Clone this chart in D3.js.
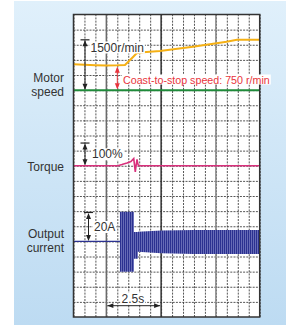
<!DOCTYPE html>
<html>
<head>
<meta charset="utf-8">
<script src="https://cdn.jsdelivr.net/npm/d3@7"></script>
<style>
html,body{margin:0;padding:0;background:#fff;}
svg{display:block;font-family:"Liberation Sans",Arial,sans-serif;}
</style>
</head>
<body>
<svg id="chart" width="286" height="326"></svg>
<script>
var speedT = [-1.5,-1,-0.5,0,0.5,0.85,1.08,1.23,1.38,1.68,2.45,3.95,5.49,5.96,7];
var speedV = [762,747,735,729,732,741,889,986,1087,1116,1155,1282,1429,1485,1490];
var syncV = 0; //ligne verte

var torqueT = [-1.5,0.53,0.71,0.94,1.12,1.25,1.29,1.32,1.36,1.40,1.44,1.47,7];
var torqueV = [0,0,5,12,18,31,-1,-27,3,27,7,0,0];

var curBaseT = [-1.5,0.62];
var curT = [0.62,1.26,1.26,1.44,1.44,2.5,4,7];
var curMax = [20.2,20.2,6.4,6.4,6.6,7.4,7.8,7.8];
var curMin = [-20.6,-20.6,-11.8,-11.8,-7.0,-8.0,-8.6,-8.6];

var gridT = d3.range(-1.5,7.01,0.5);
var majorT = [0,2.5,5];
var majorCol = ["#6a6a6a","#333333","#8a8a8a"];
var nbRows = 20;
var chLabels = [["Motor","speed"],["Torque"],["Output","current"]];

var svg = d3.select("#chart");
var x0 = 73.5, x1 = 259.7, y0 = 14.5, y1 = 317;

var x = d3.scaleLinear().domain([-1.5,7]).range([x0,x1]);
var row = d3.scaleLinear().domain([0,nbRows]).range([y0,y1]);
var ySpeed = d3.scaleLinear().domain([0,1500]).range([row(5),row(5)-50.8]);
var yTorque = d3.scaleLinear().domain([0,100]).range([row(10),row(10)-23.2]);
var yCur = d3.scaleLinear().domain([0,20]).range([row(15),row(15)-29.4]);

//fond bleu
var defs = svg.append("defs");
var grad = defs.append("linearGradient").attr("id","fondG").attr("x1",0).attr("y1",0).attr("x2",0).attr("y2",1);
grad.append("stop").attr("offset","0%").attr("stop-color","#e0f0fb");
grad.append("stop").attr("offset","100%").attr("stop-color","#bddbf2");
var pat = defs.append("pattern").attr("id","rayures").attr("patternUnits","userSpaceOnUse")
	.attr("width",2).attr("height",4);
pat.append("rect").attr("width",2).attr("height",4).attr("fill","#747ac0");
pat.append("rect").attr("width",1.2).attr("height",4).attr("fill","#2b3190");

svg.append("rect").attr("x",14).attr("y",1).attr("width",272).attr("height",324).attr("fill","url(#fondG)");
svg.append("rect").attr("x",x0).attr("y",y0).attr("width",x1-x0).attr("height",y1-y0).attr("fill","#fff");

//grille
var gx = svg.append("g").attr("transform","translate(0,"+y1+")")
	.call(d3.axisBottom(x).tickValues(gridT).tickSize(-(y1-y0)).tickFormat(""));
gx.select(".domain").remove();
gx.selectAll("line").attr("stroke","#2a2a2a").attr("stroke-dasharray","2,1.2").attr("stroke-width",1).attr("opacity",0.8);

var gy = svg.append("g").attr("transform","translate("+x0+",0)")
	.call(d3.axisLeft(row).tickValues(d3.range(1,nbRows)).tickSize(-(x1-x0)).tickFormat(""));
gy.select(".domain").remove();
gy.selectAll("line").attr("stroke","#2a2a2a").attr("stroke-dasharray","2,1.2").attr("stroke-width",1).attr("opacity",0.8);

svg.selectAll(".major").data(majorT).enter().append("line").attr("class","major")
	.attr("x1",function(d){return x(d);}).attr("x2",function(d){return x(d);})
	.attr("y1",y0).attr("y2",y1)
	.attr("stroke",function(d,i){return majorCol[i];}).attr("stroke-width",1.5);

//courbes
var tr = svg.append("g");
tr.append("line").attr("x1",x0).attr("x2",x1).attr("y1",ySpeed(syncV)).attr("y2",ySpeed(syncV))
	.attr("stroke","#1f8a3a").attr("stroke-width",2);

var lSpeed = d3.line().x(function(d,i){return x(speedT[i]);}).y(function(d){return ySpeed(d);});
tr.append("path").attr("d",lSpeed(speedV)).attr("fill","none").attr("stroke","#f5b014").attr("stroke-width",2);

var lTorque = d3.line().x(function(d,i){return x(torqueT[i]);}).y(function(d){return yTorque(d);});
tr.append("path").attr("d",lTorque(torqueV)).attr("fill","none").attr("stroke","#d9307c").attr("stroke-width",1.6);

var lCur = d3.line().x(function(d,i){return x(curBaseT[i]);}).y(function(){return yCur(0);});
tr.append("path").attr("d",lCur(curBaseT)).attr("fill","none").attr("stroke","#2b3190").attr("stroke-width",1.3);

var aCur = d3.area().x(function(d,i){return x(curT[i]);})
	.y0(function(d,i){return yCur(curMin[i]);}).y1(function(d){return yCur(d);});
tr.append("path").attr("d",aCur(curMax)).attr("fill","url(#rayures)");

//cadre
svg.append("rect").attr("x",x0).attr("y",y0).attr("width",x1-x0).attr("height",y1-y0)
	.attr("fill","none").attr("stroke","#333").attr("stroke-width",1.5);

//fleches
function flecheV(g,cx,ya,yb,col,barre){
	g.append("line").attr("x1",cx).attr("x2",cx).attr("y1",ya+1).attr("y2",yb-1).attr("stroke",col).attr("stroke-width",1);
	g.append("path").attr("d","M"+(cx-2.5)+","+(ya+6)+"L"+cx+","+ya+"L"+(cx+2.5)+","+(ya+6)+"Z").attr("fill",col);
	g.append("path").attr("d","M"+(cx-2.5)+","+(yb-6)+"L"+cx+","+yb+"L"+(cx+2.5)+","+(yb-6)+"Z").attr("fill",col);
	if(barre){
		g.append("line").attr("x1",cx-4.5).attr("x2",cx+4.5).attr("y1",ya-0.5).attr("y2",ya-0.5).attr("stroke",col).attr("stroke-width",1.2);
	}
}
function etiquette(g,tx,ty,txt,col,fs){
	var bg = g.append("rect").attr("fill","#fff");
	var t = g.append("text").attr("x",tx).attr("y",ty).attr("fill",col).style("font-size",fs+"px").text(txt);
	var b = t.node().getBBox();
	bg.attr("x",b.x-1).attr("y",b.y+1).attr("width",b.width+2).attr("height",b.height-2);
}

var an = svg.append("g");
flecheV(an,85,ySpeed(1500)+1,ySpeed(0)-0.5,"#222",true);
etiquette(an,90.5,51.5,"1500r/min","#333",12);
flecheV(an,x(0.5),ySpeed(735)+1.5,ySpeed(0)-1,"#e8343c",false);
etiquette(an,123,83.5,"Coast-to-stop speed: 750 r/min","#e8343c",10.7);
flecheV(an,85,yTorque(100)+1,yTorque(0)-0.5,"#222",true);
etiquette(an,92,158.3,"100%","#333",12);
flecheV(an,88.5,yCur(20)+1,yCur(0)-0.5,"#222",true);
etiquette(an,94,231,"20A","#333",12);

//echelle de temps
var ya = 305.7, xa = x(0), xb = x(2.5);
etiquette(an,121.5,302.5,"2.5s","#333",12);
an.append("line").attr("x1",xa+1).attr("x2",xb-1).attr("y1",ya).attr("y2",ya).attr("stroke","#222").attr("stroke-width",1);
an.append("path").attr("d","M"+(xa+1+6)+","+(ya-2.4)+"L"+(xa+1)+","+ya+"L"+(xa+1+6)+","+(ya+2.4)+"Z").attr("fill","#222");
an.append("path").attr("d","M"+(xb-1-6)+","+(ya-2.4)+"L"+(xb-1)+","+ya+"L"+(xb-1-6)+","+(ya+2.4)+"Z").attr("fill","#222");

//libelles des voies
var labY = [[82,96],[170.5],[237.5,251.5]];
chLabels.forEach(function(lines,i){
	lines.forEach(function(l,j){
		svg.append("text").attr("x",64).attr("y",labY[i][j]).attr("text-anchor","end")
			.attr("fill","#333").style("font-size","12px").text(l);
	});
});
</script>
</body>
</html>
